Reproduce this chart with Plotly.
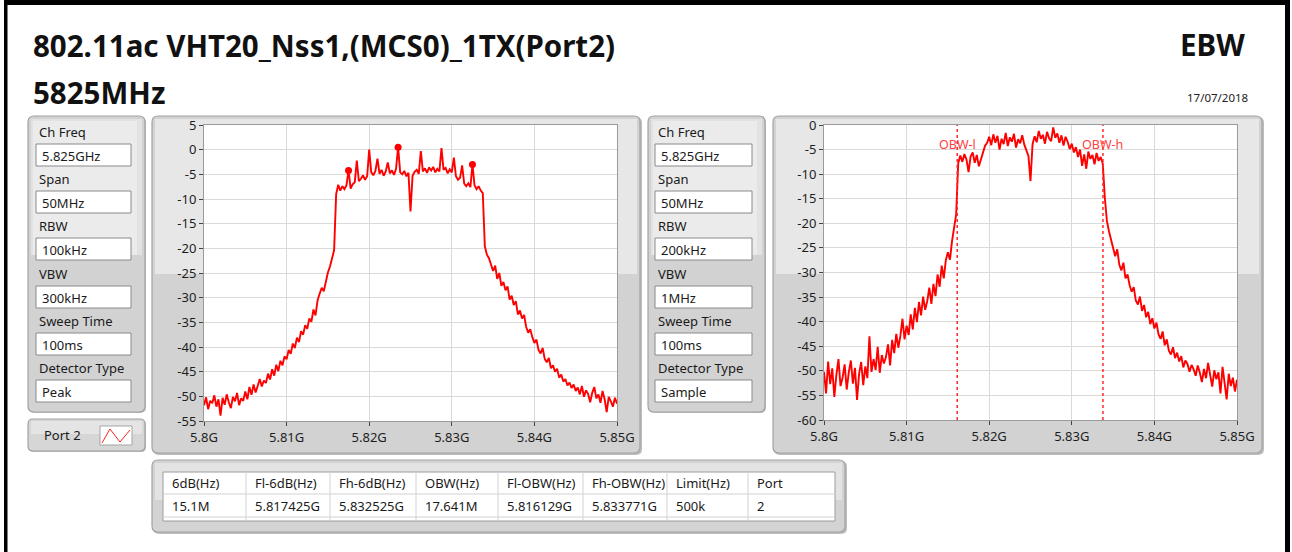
import numpy as np
import plotly.graph_objects as go

W, H = 1292, 552
FONT = "Noto Sans"

# ---------------- data ----------------
freq_ghz = np.round(np.linspace(5.800, 5.850, 201), 5)

# Port 2, peak detector, RBW 100 kHz (dBm)
peak_dbm = [
    -51.8, -50.2, -52.6, -50.9, -51.4, -49.8, -52.1, -50.6, -53.9, -50.3,
    -51.7, -49.6, -51.2, -52.4, -50.1, -51.0, -49.3, -51.8, -50.4, -50.9,
    -49.0, -50.6, -48.1, -49.7, -47.6, -49.2, -47.9, -46.5, -48.0, -46.8,
    -47.3, -45.4, -46.6, -44.5, -45.8, -43.6, -44.9, -42.8, -43.7, -41.9,
    -42.5, -40.6, -41.4, -39.3, -40.2, -38.1, -39.0, -36.8, -37.5, -35.6,
    -36.3, -34.2, -34.9, -32.4, -33.6, -30.5, -29.2, -28.0, -28.7, -26.4,
    -24.9, -23.7, -22.1, -20.4, -9.0, -7.1, -8.3, -7.4, -8.0, -7.2,
    -4.2, -7.9, -7.0, -6.6, -2.2, -6.4, -5.9, -5.2, -6.1, -5.4,
    0.0, -4.6, -5.2, -4.3, -1.8, -4.9, -4.1, -5.3, -4.4, -2.6,
    -4.8, -4.2, -5.1, -3.9, 0.5, -4.6, -5.0, -4.3, -5.4, -4.7,
    -12.5, -5.3, -4.5, -4.1, -4.9, -0.3, -4.4, -3.8, -4.7, -3.6,
    -4.2, -3.5, -4.6, -3.9, -4.4, 0.3, -4.1, -3.7, -4.8, -4.0,
    -4.6, -1.6, -5.4, -6.1, -5.7, -3.2, -6.9, -7.4, -6.8, -7.6,
    -3.0, -7.2, -8.0, -7.4, -8.3, -8.8, -19.6, -21.3, -22.0, -23.4,
    -24.6, -23.5, -26.2, -25.0, -27.6, -26.8, -28.5, -27.7, -30.4, -29.6,
    -31.5, -30.7, -33.4, -32.6, -34.2, -33.5, -35.9, -37.1, -36.4, -38.0,
    -39.2, -38.5, -40.6, -41.3, -40.2, -42.4, -43.1, -42.2, -44.3, -43.7,
    -45.0, -44.4, -46.2, -45.6, -47.0, -46.5, -47.8, -47.2, -48.3, -47.6,
    -48.9, -48.2, -49.6, -47.9, -50.1, -48.8, -49.5, -51.2, -49.3, -48.1,
    -50.4, -49.6, -51.3, -48.9, -50.6, -53.2, -50.1, -51.0, -52.1, -50.3, -51.5,
]

# Port 2, sample detector, RBW 200 kHz (dBm)
sample_dbm = [
    -50.2, -54.6, -48.1, -52.7, -49.5, -55.3, -50.8, -47.6, -53.1, -51.4,
    -48.7, -53.8, -50.3, -47.9, -52.6, -49.4, -55.9, -50.6, -48.2, -52.9,
    -49.1, -51.5, -43.0, -50.2, -47.6, -49.8, -45.1, -50.4, -46.8, -48.5,
    -47.2, -44.6, -48.9, -43.7, -46.4, -42.5, -45.3, -42.9, -39.4, -43.6,
    -40.8, -42.7, -38.5, -41.6, -37.2, -40.1, -36.0, -38.7, -34.9, -37.6,
    -35.8, -33.1, -36.4, -32.3, -34.8, -30.4, -32.9, -28.6, -31.2, -27.5,
    -25.9, -27.4, -23.6, -21.0, -18.2, -7.8, -6.2, -7.5, -5.9, -7.0,
    -9.6, -6.4, -5.6, -7.7, -6.1, -8.4, -6.9, -5.3, -4.2, -3.6,
    -2.4, -4.1, -1.9, -3.6, -2.2, -5.0, -2.8, -3.9, -1.6, -4.3,
    -2.5, -3.4, -1.8, -4.6, -2.9, -3.7, -2.1, -4.0, -5.2, -6.3,
    -11.4, -3.9, -2.3, -3.5, -1.2, -2.8, -2.0, -3.8, -1.4, -2.7,
    -3.3, -0.5, -2.6, -1.7, -3.6, -2.1, -4.2, -2.4, -3.4, -4.9,
    -3.8, -5.6, -4.5, -6.5, -5.0, -8.3, -6.0, -8.9, -5.4, -6.9,
    -6.1, -8.0, -5.7, -7.3, -6.5, -7.9, -14.8, -19.5, -21.6, -23.2,
    -24.9, -26.7, -25.3, -28.4, -29.6, -28.0, -31.2, -30.4, -32.6, -33.9,
    -33.0, -35.7, -36.5, -34.9, -37.8, -36.6, -39.1, -38.0, -40.5, -39.3,
    -41.4, -40.2, -42.6, -43.5, -42.0, -44.8, -43.6, -45.9, -46.7, -45.2,
    -47.4, -46.3, -48.1, -47.0, -49.3, -47.9, -48.6, -50.2, -48.8, -49.7,
    -51.0, -48.9, -50.4, -52.3, -49.6, -51.5, -48.4, -50.8, -53.2, -49.9,
    -51.7, -50.3, -54.6, -49.2, -52.0, -55.8, -50.6, -53.1, -51.4, -54.2, -51.8,
]
assert len(peak_dbm) == len(freq_ghz) == len(sample_dbm)

# peak-search markers on the peak trace (sample indices)
marker_idx = [70, 94, 130]

x_tick_vals = [5.80, 5.81, 5.82, 5.83, 5.84, 5.85]
x_tick_text = ["5.8G", "5.81G", "5.82G", "5.83G", "5.84G", "5.85G"]
y_ticks_left = [5, 0, -5, -10, -15, -20, -25, -30, -35, -40, -45, -50, -55]
y_ticks_right = [0, -5, -10, -15, -20, -25, -30, -35, -40, -45, -50, -55, -60]

setting_labels = ["Ch Freq", "Span", "RBW", "VBW", "Sweep Time", "Detector Type"]
settings_left = ["5.825GHz", "50MHz", "100kHz", "300kHz", "100ms", "Peak"]
settings_right = ["5.825GHz", "50MHz", "200kHz", "1MHz", "100ms", "Sample"]

table_headers = ["6dB(Hz)", "Fl-6dB(Hz)", "Fh-6dB(Hz)", "OBW(Hz)",
                 "Fl-OBW(Hz)", "Fh-OBW(Hz)", "Limit(Hz)", "Port"]
table_values = ["15.1M", "5.817425G", "5.832525G", "17.641M",
                "5.816129G", "5.833771G", "500k", "2"]

obw_low_ghz = 5.816129
obw_high_ghz = 5.833771

title_text = "802.11ac VHT20_Nss1,(MCS0)_1TX(Port2)"
channel_text = "5825MHz"
test_name = "EBW"
date_text = "17/07/2018"
legend_name = "Port 2"

# ---------------- helpers (pixel -> paper) ----------------
def px(x):
    return x / W


def py(y):
    return 1 - y / H


shapes = []
annotations = []


def rect(x0, y0, x1, y1, fill, line="rgba(0,0,0,0)", lw=0):
    shapes.append(dict(type="rect", xref="paper", yref="paper",
                       x0=px(x0), x1=px(x1), y0=py(y1), y1=py(y0),
                       fillcolor=fill, line=dict(color=line, width=lw),
                       layer="below"))


def rrect(x0, y0, x1, y1, r, fill, line="rgba(0,0,0,0)", lw=0):
    def p(x, y):
        return f"{px(x):.6f},{py(y):.6f}"
    d = (f"M {p(x0 + r, y0)} L {p(x1 - r, y0)} Q {p(x1, y0)} {p(x1, y0 + r)} "
         f"L {p(x1, y1 - r)} Q {p(x1, y1)} {p(x1 - r, y1)} "
         f"L {p(x0 + r, y1)} Q {p(x0, y1)} {p(x0, y1 - r)} "
         f"L {p(x0, y0 + r)} Q {p(x0, y0)} {p(x0 + r, y0)} Z")
    shapes.append(dict(type="path", xref="paper", yref="paper", path=d,
                       fillcolor=fill, line=dict(color=line, width=lw),
                       layer="below"))


def hline(x0, x1, y, color, lw=1):
    shapes.append(dict(type="line", xref="paper", yref="paper",
                       x0=px(x0), x1=px(x1), y0=py(y), y1=py(y),
                       line=dict(color=color, width=lw), layer="below"))


def vline(x, y0, y1, color, lw=1):
    shapes.append(dict(type="line", xref="paper", yref="paper",
                       x0=px(x), x1=px(x), y0=py(y0), y1=py(y1),
                       line=dict(color=color, width=lw), layer="below"))


def text(x, y, s, size=13, anchor="left", color="#1a1a1a", weight=400):
    annotations.append(dict(x=px(x), y=py(y), xref="paper", yref="paper",
                            text=s, showarrow=False, xanchor=anchor,
                            yanchor="middle",
                            font=dict(family=FONT, size=size, color=color,
                                      weight=weight)))


PANEL_DARK = "#d2d2d2"
PANEL_LIGHT = "#e7e7e7"
PANEL_EDGE = "#a2a2a2"

# ---------------- page frame ----------------
rect(4, 0, 1290, 5, "#000000")
rect(4, 0, 7.5, 552, "#000000")
rect(1285, 0, 1290, 552, "#000000")

# ---------------- header text ----------------
text(31, 45, title_text, size=29.5, weight=700, color="#111111")
text(31, 93, channel_text, size=29.5, weight=700, color="#111111")
text(1247, 44, test_name, size=29.5, weight=700, anchor="right", color="#111111")
text(1250, 97, date_text, size=11.5, anchor="right", color="#222222")


# ---------------- settings panels ----------------
def settings_panel(x0, x1, bx0, bx1, values):
    rrect(x0 + 1, 117, x1 + 1, 413, 6, "#bdbdbd")
    rrect(x0, 116, x1, 412, 6, PANEL_DARK, PANEL_EDGE, 1.2)
    rect(x0 + 3, 119, x1 - 3, 255, "#e2e2e2")
    rect(x0 + 5, 121, x1 - 8, 255, "#ebebeb")
    tops = [144, 191, 238, 286, 333, 380]
    for lab, val, t in zip(setting_labels, values, tops):
        text(bx0 + 1, t - 12, lab, size=13)
        rect(bx0, t, bx1, t + 22, "#ffffff", "#8a8a8a", 1)
        text(bx0 + 4, t + 11.5, val, size=13)


settings_panel(28, 145, 36, 131, settings_left)
settings_panel(648, 765, 655, 752, settings_right)

# legend plate
rrect(29, 420, 146, 452, 5, "#bdbdbd")
rrect(28, 419, 145, 451, 5, "#d6d6d6", PANEL_EDGE, 1.2)
rect(31, 421, 142, 434, "#e4e4e4")
text(62, 435, legend_name, size=13, anchor="center")
rect(100, 426, 132, 445, "#ffffff", "#a5a5a5", 1)
zig = [(102, 443), (110, 429), (120, 442), (130, 430)]
shapes.append(dict(type="path", xref="paper", yref="paper",
                   path="M " + " L ".join(f"{px(a):.6f},{py(b):.6f}" for a, b in zig),
                   line=dict(color="#ff2020", width=1), layer="below"))


# ---------------- chart panels ----------------
def chart_panel(x0, x1, ax0, ax1):
    rrect(x0 + 1, 117, x1 + 2, 455, 6, "#bdbdbd")
    rrect(x0, 116, x1, 453, 6, PANEL_DARK, PANEL_EDGE, 1.2)
    rect(x0 + 3, 119, x1 - 3, 274, PANEL_LIGHT)
    rect(ax0, 125, ax1, 421, "#ffffff")


chart_panel(152, 640, 204, 617)
chart_panel(773, 1262, 824, 1237)

# ---------------- results table ----------------
rrect(153, 461, 847, 534, 6, "#bdbdbd")
rrect(152, 460, 845, 532, 6, "#d3d3d3", PANEL_EDGE, 1.2)
rect(155, 463, 842, 500, "#e3e3e3")
rect(163, 472, 835, 521, "#ffffff", "#9c9c9c", 1)
hline(163, 835, 494, "#d2d2d2")
hline(163, 835, 517, "#d2d2d2")
col_edges = [163, 246, 330, 416, 498, 583, 667, 748, 835]
for cx in col_edges[1:-1]:
    vline(cx, 472, 521, "#d2d2d2")
for i, (hd, val) in enumerate(zip(table_headers, table_values)):
    text(col_edges[i] + 7, 483, hd, size=13)
    text(col_edges[i] + 7, 506, val, size=13)

# ---------------- traces ----------------
fig = go.Figure()
fig.add_trace(go.Scatter(x=freq_ghz, y=peak_dbm, mode="lines",
                         line=dict(color="#ff0000", width=1.9),
                         xaxis="x", yaxis="y", showlegend=False,
                         hoverinfo="skip"))
fig.add_trace(go.Scatter(x=[freq_ghz[i] for i in marker_idx],
                         y=[peak_dbm[i] for i in marker_idx], mode="markers",
                         marker=dict(color="#ff0000", size=7),
                         xaxis="x", yaxis="y", showlegend=False,
                         hoverinfo="skip"))
fig.add_trace(go.Scatter(x=freq_ghz, y=sample_dbm, mode="lines",
                         line=dict(color="#ff0000", width=1.9),
                         xaxis="x2", yaxis="y2", showlegend=False,
                         hoverinfo="skip"))

# OBW cursors on the right graph
for f, lab in [(obw_low_ghz, "OBW-l"), (obw_high_ghz, "OBW-h")]:
    shapes.append(dict(type="line", xref="x2", yref="y2 domain",
                       x0=f, x1=f, y0=0, y1=1,
                       line=dict(color="#ff2a2a", width=1.5, dash="dot")))
    annotations.append(dict(x=f, y=-4, xref="x2", yref="y2", text=lab,
                            showarrow=False, xanchor="center", yanchor="middle",
                            font=dict(family=FONT, size=12.5, color="#ff4040")))

axis_common = dict(showgrid=True, gridcolor="#dadada", gridwidth=1,
                   showline=True, linecolor="#9a9a9a", linewidth=1, mirror=True,
                   ticks="outside", ticklen=4, tickcolor="#444444",
                   tickfont=dict(family=FONT, size=13, color="#1e1e1e"),
                   zeroline=False, fixedrange=True, automargin=False)

fig.update_layout(
    width=W, height=H, autosize=False,
    margin=dict(l=0, r=0, t=0, b=0, pad=0),
    paper_bgcolor="#ffffff", plot_bgcolor="#ffffff",
    showlegend=False,
    xaxis=dict(domain=[px(204), px(617)], range=[5.8, 5.85], anchor="y",
               tickvals=x_tick_vals, ticktext=x_tick_text, **axis_common),
    yaxis=dict(domain=[py(421), py(125)], range=[-55, 5], anchor="x",
               tickvals=y_ticks_left, ticktext=[str(v) for v in y_ticks_left],
               **axis_common),
    xaxis2=dict(domain=[px(824), px(1237)], range=[5.8, 5.85], anchor="y2",
                tickvals=x_tick_vals, ticktext=x_tick_text, **axis_common),
    yaxis2=dict(domain=[py(420), py(125)], range=[-60, 0], anchor="x2",
                tickvals=y_ticks_right, ticktext=[str(v) for v in y_ticks_right],
                **axis_common),
    shapes=shapes,
    annotations=annotations,
)

fig.write_html("out.html")
